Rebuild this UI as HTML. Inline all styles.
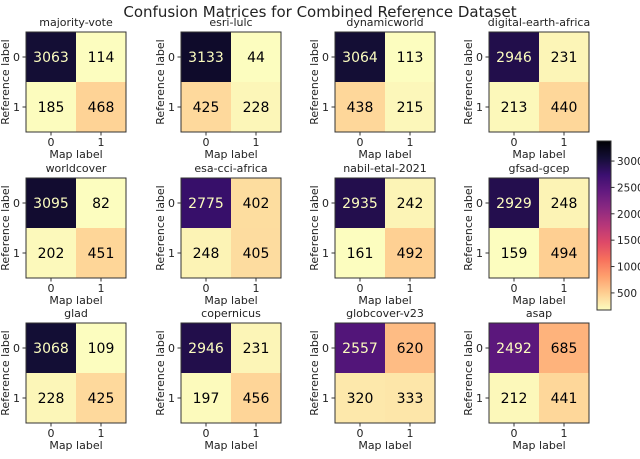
<!DOCTYPE html>
<html><head><meta charset="utf-8"><style>
body{margin:0;background:#fff}
svg text{font-family:"DejaVu Sans","Liberation Sans",sans-serif}
</style></head><body>
<svg id="fig" width="640" height="454" viewBox="0 0 640 454" xmlns="http://www.w3.org/2000/svg">
<text x="320" y="17" font-size="15" text-anchor="middle" fill="#222">Confusion Matrices for Combined Reference Dataset</text>
<defs><linearGradient id="cbg" x1="0" y1="1" x2="0" y2="0"></linearGradient></defs>
<g id="plots"></g>
<g id="cbar"></g>
</svg>
<script>
const names = ["majority-vote","esri-lulc","dynamicworld","digital-earth-africa","worldcover","esa-cci-africa","nabil-etal-2021","gfsad-gcep","glad","copernicus","globcover-v23","asap"];
const tn = [3063,3133,3064,2946,3095,2775,2935,2929,3068,2946,2557,2492];
const fp = [114,44,113,231,82,402,242,248,109,231,620,685];
const fn = [185,425,438,213,202,248,161,159,228,197,320,212];
const tp = [468,228,215,440,451,405,492,494,425,456,333,441];
const cbTicks = [500,1000,1500,2000,2500,3000];
const tickLabels = ["0","1"];

const vmin=176, vmax=3380;
const magma=["#000004","#140e36","#3b0f70","#641a80","#8c2981","#b73779","#de4968","#f7705c","#fe9f6d","#fecf92","#fcfdbf"];
function hex(h){return [1,3,5].map(i=>parseInt(h.substr(i,2),16));}
function cmap(v){let t=1-Math.max(0,Math.min(1,(v-vmin)/(vmax-vmin)));let x=t*10,i=Math.min(9,Math.floor(x)),f=x-i;const a=hex(magma[i]),b=hex(magma[i+1]);return "rgb("+a.map((c,k)=>Math.round(c+(b[k]-c)*f)).join(",")+")";}
const NS="http://www.w3.org/2000/svg";
function mk(tag,attrs,parent,text){const e=document.createElementNS(NS,tag);for(const k in attrs)e.setAttribute(k,attrs[k]);if(text!==undefined)e.textContent=text;parent.appendChild(e);return e;}
const colX=[26,181,335,489], rowY=[32,178,323], S=100;
const plots=document.getElementById('plots');
names.forEach((nm,i)=>{
  const x0=colX[i%4], y0=rowY[Math.floor(i/4)];
  const g=mk('g',{},plots);
  
  
  const t=mk('text',{x:x0+S/2,y:y0-6,'font-size':11,'text-anchor':'middle',fill:'#222'},g,nm);
  
  
  const vals=[[tn[i],fp[i]],[fn[i],tp[i]]];
  const all=[tn[i],fp[i],fn[i],tp[i]];
  const thr=(Math.max(...all)+Math.min(...all))/2;
  for(let r=0;r<2;r++)for(let c=0;c<2;c++){
    const v=vals[r][c];
    const rc=mk('rect',{x:x0+c*S/2,y:y0+r*S/2,width:S/2,height:S/2,fill:cmap(v)},g);
    
    
    const tx=mk('text',{x:x0+c*S/2+S/4,y:y0+r*S/2+S/4+5,'font-size':14,'text-anchor':'middle',fill:v>thr?'#fcfdbf':'#000004'},g,String(v));
    
    
  }
  const fr=mk('rect',{x:x0,y:y0,width:S,height:S,fill:'none',stroke:'#333','stroke-width':1},g);
  
  
  tickLabels.forEach((tl,k)=>{
    mk('line',{x1:x0+S/4+k*S/2,x2:x0+S/4+k*S/2,y1:y0+S,y2:y0+S+3.5,stroke:'#333'},g);
    const xt=mk('text',{x:x0+S/4+k*S/2,y:y0+S+14,'font-size':11,'text-anchor':'middle',fill:'#222'},g,tl);
    
    
    mk('line',{x1:x0-3.5,x2:x0,y1:y0+S/4+k*S/2,y2:y0+S/4+k*S/2,stroke:'#333'},g);
    const yt=mk('text',{x:x0-6,y:y0+S/4+k*S/2+4,'font-size':11,'text-anchor':'end',fill:'#222'},g,tl);
    
    
  });
  const xl=mk('text',{x:x0+S/2,y:y0+S+26,'font-size':11,'text-anchor':'middle',fill:'#222'},g,'Map label');
  
  
  const yl=mk('text',{x:0,y:0,'font-size':11,'text-anchor':'middle',fill:'#222',transform:`translate(${x0-17},${y0+S/2}) rotate(-90)`},g,'Reference label');
  
  
});
// colorbar
const cb=document.getElementById('cbar');
const cbX=597,cbW=14,cbTop=141,cbBot=310;
const yOf=v=>cbBot-(v-vmin)/(vmax-vmin)*(cbBot-cbTop);
const grad=document.getElementById('cbg');
for(let k=0;k<=20;k++){const v=vmin+(vmax-vmin)*k/20;mk('stop',{offset:(k/20),'stop-color':cmap(v)},grad);}
mk('rect',{x:cbX,y:cbTop,width:cbW,height:cbBot-cbTop,fill:'url(#cbg)',stroke:'#333','stroke-width':1},cb);
cbTicks.forEach(v=>{
  const y=yOf(v);
  mk('line',{x1:cbX+cbW,x2:cbX+cbW+3.5,y1:y,y2:y,stroke:'#333'},cb);
  const t=mk('text',{x:cbX+cbW+6,y:y+4,'font-size':10.5,fill:'#222'},cb,String(v));
  
  
});
</script>
</body></html>
